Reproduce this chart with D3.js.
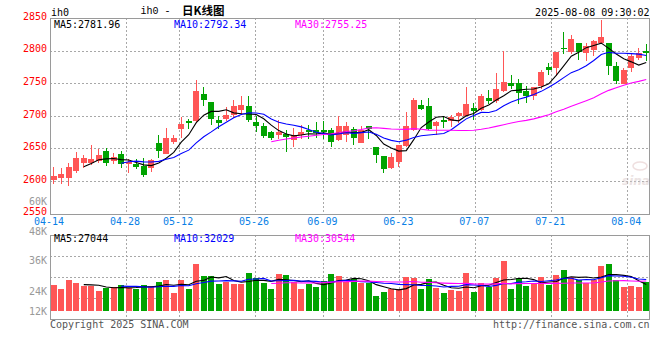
<!DOCTYPE html>
<html><head><meta charset="utf-8">
<script src="https://cdn.jsdelivr.net/npm/d3@7/dist/d3.min.js"></script>
<style>body{margin:0;background:#fff}svg{display:block}</style>
</head><body><svg id="c" width="660" height="360"></svg>
<script>
// ---------- data ----------
const dates = ["04-14","04-15","04-16","04-17","04-18","04-21","04-22","04-23","04-24","04-25",
"04-28","04-29","04-30","05-06","05-07","05-08","05-09","05-12","05-13","05-14",
"05-15","05-16","05-19","05-20","05-21","05-22","05-23","05-26","05-27","05-28",
"05-29","05-30","06-03","06-04","06-05","06-06","06-09","06-10","06-11","06-12",
"06-13","06-16","06-17","06-18","06-19","06-20","06-23","06-24","06-25","06-26",
"06-27","06-30","07-01","07-02","07-03","07-04","07-07","07-08","07-09","07-10",
"07-11","07-14","07-15","07-16","07-17","07-18","07-21","07-22","07-23","07-24",
"07-25","07-28","07-29","07-30","07-31","08-01","08-04","08-05","08-06","08-07"];
const opens = [2601.6,2604.6,2604.6,2615.3,2627.5,2627.5,2631.0,2645.3,2631.0,2640.7,
2626.5,2625.5,2623.0,2619.9,2657.5,2640.7,2659.5,2680.3,2692.5,2691.5,
2732.7,2721.5,2693.0,2695.6,2700.7,2709.3,2715.4,2691.0,2684.9,2674.3,
2671.2,2672.2,2662.6,2669.7,2678.8,2678.8,2677.8,2677.8,2662.6,2671.2,
2679.8,2658.5,2683.9,2651.9,2638.2,2620.4,2629.0,2653.4,2677.8,2716.9,
2715.4,2683.9,2693.0,2691.5,2699.1,2699.1,2712.4,2709.3,2727.6,2723.0,
2737.3,2750.0,2750.5,2738.3,2729.6,2746.4,2774.8,2772.8,2803.8,2798.2,
2812.4,2795.7,2800.8,2811.9,2810.9,2776.4,2749.0,2772.8,2788.0,2799.8];
const highs = [2621.4,2620.4,2628.0,2644.3,2639.2,2654.4,2649.4,2649.9,2643.3,2645.8,
2634.1,2633.0,2635.6,2634.1,2671.2,2681.4,2671.2,2698.1,2695.1,2755.0,
2743.9,2721.5,2699.1,2713.4,2724.5,2729.6,2729.6,2699.1,2689.0,2677.3,
2694.0,2678.8,2681.4,2686.4,2685.9,2690.0,2691.5,2681.4,2699.1,2690.0,
2682.4,2683.9,2683.9,2651.9,2638.2,2642.2,2654.4,2705.2,2726.6,2723.5,
2727.1,2691.5,2700.2,2701.7,2705.2,2743.4,2719.5,2733.7,2739.8,2765.2,
2799.2,2762.7,2756.6,2745.9,2743.4,2770.3,2781.5,2798.2,2828.7,2823.6,
2812.4,2810.9,2817.0,2846.5,2810.9,2783.0,2772.8,2795.7,2804.3,2809.9];
const lows = [2595.0,2595.0,2592.5,2611.8,2620.4,2624.0,2628.0,2622.9,2625.5,2619.9,
2611.8,2617.9,2606.0,2613.8,2634.6,2640.7,2657.0,2665.1,2680.3,2689.0,
2714.4,2686.4,2680.3,2691.5,2696.6,2701.7,2690.0,2674.8,2665.1,2662.6,
2663.6,2644.3,2652.4,2663.6,2663.6,2666.1,2663.6,2652.4,2661.0,2659.5,
2654.4,2657.5,2663.6,2628.0,2611.8,2617.9,2621.4,2652.4,2676.3,2708.3,
2677.8,2671.2,2681.4,2682.4,2689.0,2699.1,2693.0,2707.8,2718.0,2719.5,
2736.2,2741.3,2718.0,2719.5,2724.5,2741.3,2762.7,2761.1,2795.2,2794.7,
2785.5,2784.5,2792.1,2809.4,2762.7,2749.0,2749.0,2766.7,2785.5,2784.5];
const closes = [2607.7,2610.2,2620.9,2634.6,2634.6,2633.0,2639.2,2627.5,2637.2,2626.5,
2629.5,2620.9,2609.2,2631.6,2645.8,2666.1,2666.1,2688.0,2688.5,2738.3,
2723.5,2695.1,2688.5,2700.7,2714.4,2716.9,2693.0,2683.9,2668.2,2665.6,
2675.3,2667.1,2669.7,2674.8,2674.8,2673.7,2675.8,2659.5,2683.9,2683.9,
2666.1,2678.8,2680.3,2639.7,2617.9,2636.7,2654.4,2683.9,2723.5,2710.8,
2679.8,2690.0,2690.0,2697.6,2703.7,2718.5,2707.8,2729.6,2723.0,2741.3,
2752.0,2745.9,2734.2,2729.6,2743.4,2767.2,2770.8,2798.2,2802.8,2817.5,
2797.2,2806.9,2815.0,2820.6,2776.9,2754.0,2770.3,2791.6,2795.7,2796.7];
const volumes = [26500,22400,31600,28600,25200,25200,20400,23200,24500,26500,
23200,22400,26500,25200,29600,31600,18400,31600,22400,47900,
35700,35700,27500,29300,27500,27500,38800,33700,28600,22400,
37700,36700,29900,22400,27200,24500,30600,37700,35700,29900,
32600,28300,28300,15300,19400,22400,22400,34700,34000,22400,
32600,23500,18400,21400,20400,38800,19400,28600,24500,34000,
51300,22400,33700,25500,27200,34700,26500,36700,41800,35000,
31600,28600,31600,45900,47900,31600,24500,25500,24500,29300];
const priceTicks = [2850,2800,2750,2700,2650,2600,2550];
const volTickValues = [60000,48000,36000,24000,12000];
const volTickLabels = ["60K","48K","36K","24K","12K"];
const dateTicks = ["04-14","04-28","05-12","05-26","06-09","06-23","07-07","07-21","08-04"];
const maPeriods = [5,10,30];
const priceLegend = ["MA5:2781.96","MA10:2792.34","MA30:2755.25"];
const volLegend = ["MA5:27044","MA10:32029","MA30:30544"];
const symbol = "ih0";
const titleText = "ih0 - ";
const titleCJK = "日K线图";
const timeText = "2025-08-08 09:30:02";
const copyText = "Copyright 2025 SINA.COM";
const urlText = "http://finance.sina.com.cn";

// ---------- styles ----------
const MONO = "'DejaVu Sans Mono', monospace";
const UP = "#ff5656", DOWN = "#00a300";
const maColors = ["#000000","#0000ff","#ff00ff"];
const GRID = "#a8a8a8", FRAME = "#9a9a9a";

const svg = d3.select("#c");
const L = 50, R = 650;
const main = {top: 18, bottom: 213.5};
const vol = {top: 234.5, bottom: 318.5, base: 311};

const x = d3.scaleBand().domain(dates).range([L, R]);
const xGrid = d3.scaleLinear().domain([0, dates.length - 1]).range([L, R]);
const yP = d3.scaleLinear().domain([2550, 2850]).range([main.bottom, main.top]);
const yV = d3.scaleLinear().domain([0, 60000]).range([vol.base, vol.base - 60000 / 1020]);
const yVLabel = d3.scaleLinear().domain([12000, 24000, 36000, 48000, 60000]).range([311.5, 291, 260, 231, 201]);
const yVGrid = d3.scaleLinear().domain([0, 4]).range([vol.top, vol.bottom]);

const cx = d => x(d) + x.bandwidth() / 2;
const px = v => Math.round(v) + 0.5;

function movingAvg(arr, n) {
  return arr.map((_, i) => i < n - 1 ? null : d3.mean(arr.slice(i - n + 1, i + 1)));
}

// ---------- grids ----------
const g = svg.append("g").attr("shape-rendering", "crispEdges");
g.selectAll(".hg").data(priceTicks.slice(1, -1)).join("line")
  .attr("x1", L).attr("x2", R).attr("y1", d => px(yP(d))).attr("y2", d => px(yP(d)))
  .attr("stroke", GRID).attr("stroke-dasharray", "2,2");
g.selectAll(".vg").data([1, 2, 3]).join("line")
  .attr("x1", L).attr("x2", R).attr("y1", d => px(yVGrid(d))).attr("y2", d => px(yVGrid(d)))
  .attr("stroke", GRID).attr("stroke-dasharray", "2,2");
const tickIdx = dateTicks.map(t => dates.indexOf(t));
[[main.top, main.bottom], [vol.top, vol.bottom]].forEach(([t, b]) => {
  g.append("g").selectAll("line").data(tickIdx).join("line")
    .attr("x1", i => px(xGrid(i))).attr("x2", i => px(xGrid(i)))
    .attr("y1", t).attr("y2", b)
    .attr("stroke", GRID).attr("stroke-dasharray", "2,2");
});

// watermark
const wm = svg.append("g").attr("opacity", 0.5);
wm.append("text").attr("x", 636).attr("y", 185).attr("text-anchor", "middle")
  .attr("font-family", "'DejaVu Sans', sans-serif").attr("font-size", 12).attr("font-style", "italic")
  .attr("font-weight", "bold").attr("fill", "#d8c8c8").text("sina");
wm.append("ellipse").attr("cx", 640).attr("cy", 166).attr("rx", 7).attr("ry", 4)
  .attr("fill", "none").attr("stroke", "#e0c0c0").attr("stroke-width", 1.5);

// ---------- candles ----------
const data = dates.map((d, i) => ({d, o: opens[i], h: highs[i], l: lows[i], c: closes[i], v: volumes[i]}));
const cg = svg.append("g").attr("shape-rendering", "crispEdges");
const bw = 6;
const cand = cg.selectAll("g").data(data).join("g");
cand.append("line")
  .attr("x1", d => px(cx(d.d) - 0.5)).attr("x2", d => px(cx(d.d) - 0.5))
  .attr("y1", d => yP(d.h)).attr("y2", d => yP(d.l))
  .attr("stroke", d => d.c >= d.o ? UP : DOWN);
cand.append("rect")
  .attr("x", d => Math.round(cx(d.d) - bw / 2))
  .attr("width", bw)
  .attr("y", d => yP(Math.max(d.o, d.c)))
  .attr("height", d => Math.max(1, Math.abs(yP(d.o) - yP(d.c))))
  .attr("fill", d => d.c >= d.o ? UP : DOWN);

cg.append("g").selectAll("rect").data(data).join("rect")
  .attr("x", d => Math.round(cx(d.d) - bw / 2))
  .attr("width", bw)
  .attr("y", d => yV(d.v))
  .attr("height", d => yV(0) - yV(d.v))
  .attr("fill", d => d.c >= d.o ? UP : DOWN);

// ---------- moving averages ----------
maPeriods.forEach((n, k) => {
  const mp = movingAvg(closes, n);
  const mv = movingAvg(volumes, n);
  const lp = d3.line().defined(d => d[1] != null).x(d => cx(d[0])).y(d => yP(d[1]));
  const lv = d3.line().defined(d => d[1] != null).x(d => cx(d[0])).y(d => yV(d[1]));
  svg.append("path").datum(dates.map((d, i) => [d, mp[i]])).attr("d", lp)
    .attr("fill", "none").attr("stroke", maColors[k]).attr("stroke-width", 1.1);
  svg.append("path").datum(dates.map((d, i) => [d, mv[i]])).attr("d", lv)
    .attr("fill", "none").attr("stroke", maColors[k]).attr("stroke-width", 1.1);
});

// ---------- frames ----------
[[main.top, main.bottom], [vol.top, vol.bottom]].forEach(([t, b]) => {
  svg.append("rect").attr("x", L + 0.5).attr("y", px(t)).attr("width", R - L - 1).attr("height", Math.round(b - t))
    .attr("fill", "none").attr("stroke", FRAME).attr("shape-rendering", "crispEdges");
});

// ---------- text ----------
const txt = (sel, xx, yy, s, color, anchor) => sel.append("text")
  .attr("x", xx).attr("y", yy).attr("dominant-baseline", "central")
  .attr("text-anchor", anchor || "start").attr("font-family", MONO).attr("font-size", 10)
  .attr("fill", color).text(s);

priceTicks.forEach(v => txt(svg, 47, yP(v) - 1.6, String(v), "#ff0000", "end"));
volTickValues.forEach((v, i) => txt(svg, 47, yVLabel(v), volTickLabels[i], "#999999", "end"));
dateTicks.forEach(t => txt(svg, xGrid(dates.indexOf(t)) - 1, 221.5, t, "#0a7fe6", "middle"));

const legX = [54, 174, 295];
priceLegend.forEach((s, k) => txt(svg, legX[k], 24.5, s, maColors[k]));
volLegend.forEach((s, k) => txt(svg, legX[k], 238.5, s, maColors[k]));

txt(svg, 51, 12, symbol, "#000");
txt(svg, 140.5, 11, titleText, "#000").attr("font-family", "'Liberation Mono', monospace");
svg.append("text").attr("x", 182).attr("y", 9.5).attr("dominant-baseline", "central")
  .attr("font-family", "'Noto Sans CJK SC', sans-serif").attr("font-size", 11.5)
  .attr("font-weight", "bold").attr("fill", "#000").text(titleCJK);
txt(svg, 649.5, 12, timeText, "#000", "end");

txt(svg, 50, 324.5, copyText, "#555555");
txt(svg, 649.5, 324.5, urlText, "#555555", "end");
</script></body></html>
